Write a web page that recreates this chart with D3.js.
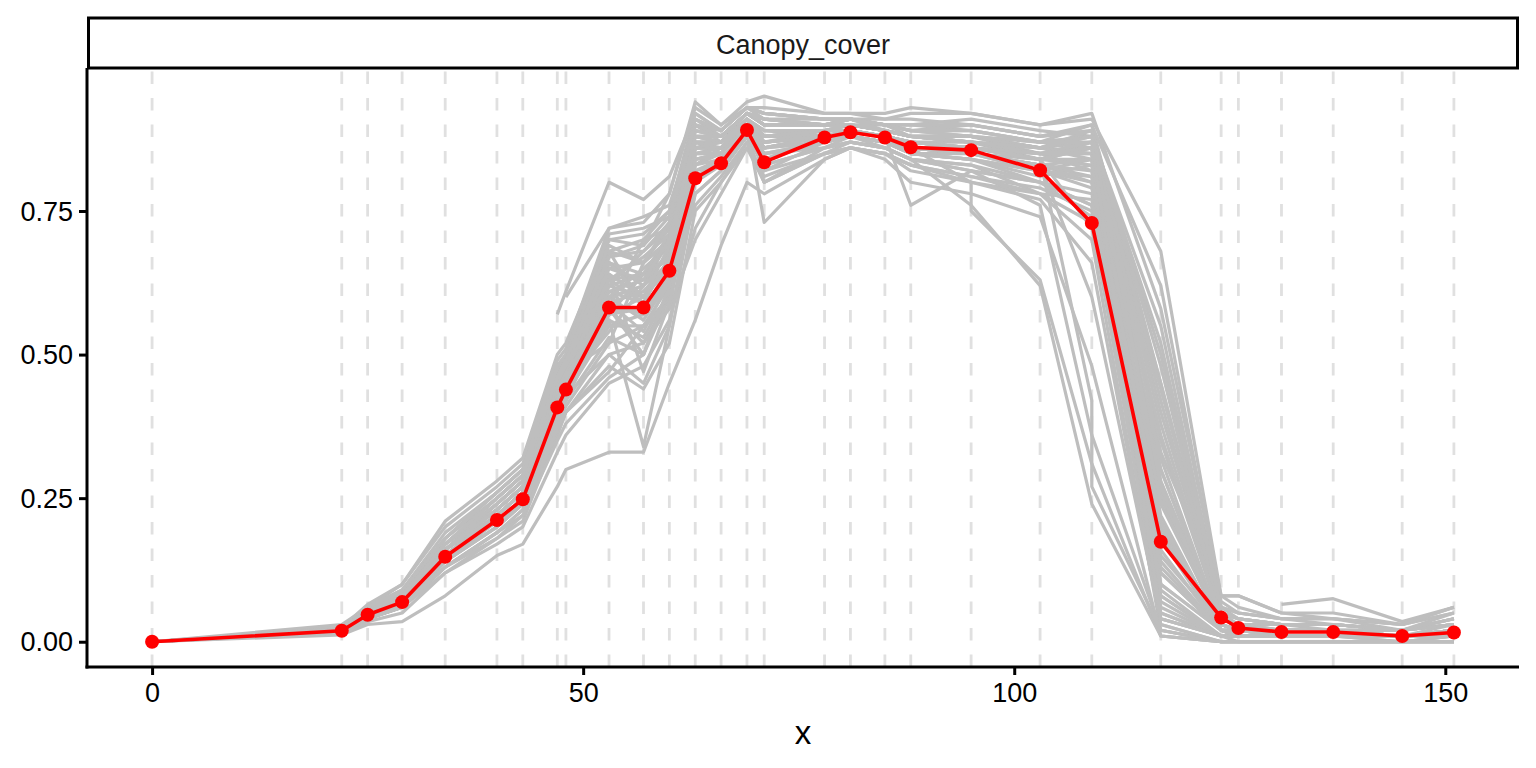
<!DOCTYPE html>
<html>
<head>
<meta charset="utf-8">
<script src="https://cdn.jsdelivr.net/npm/d3@7"></script>
<style>
  body { margin: 0; background: #fff; }
  text { font-family: "Liberation Sans", Arial, sans-serif; }
</style>
</head>
<body>
<div id="root"></div>
<script>
// acquisition dates (x) shared by every plot series
const dates = [0, 22, 25, 29, 34, 40, 43, 47, 48, 53, 57, 60, 63, 66, 69, 71, 78, 81, 85, 88, 95, 103, 109, 117, 124, 126, 131, 137, 145, 151]

// mean canopy cover (red)
const meanCover = [0, 0.019, 0.047, 0.069, 0.148, 0.212, 0.248, 0.408, 0.439, 0.582, 0.582, 0.646, 0.807, 0.833, 0.891, 0.835,
    0.878, 0.887, 0.878, 0.861, 0.856, 0.821, 0.729, 0.174, 0.042, 0.024, 0.017, 0.017, 0.010, 0.016]

// single plots (grey). null = no image, [a, b] = two readings on the same date
const plotCover = [
    [0, .02, .05, .08, .17, .24, .28, .45, .48, .65, .66, .72, .88, .88, .92, .90, .90, .90, .89, .88, .88, .86, .84, .30, .03, .02, .02, .02, .01, .02],
    [0, .02, .04, .06, .14, .20, .24, .40, .43, .55, .57, .64, .85, .86, .90, .88, .89, .90, .90, .89, .88, .85, .82, .12, .02, .01, .01, .01, .01, .01],
    [0, .03, .06, .09, .19, .26, .30, .47, .50, .70, .71, .75, .92, .89, .93, .92, .91, .91, .90, .90, .91, .89, .88, .45, .05, .03, .03, .03, .02, .03],
    [0, .015, .035, .05, .12, .18, .21, .36, .40, .50, .52, .60, .78, .82, .88, .80, .86, .88, .87, .85, .84, .80, .76, .05, .01, .01, .01, .01, 0, .01],
    [0, .02, .05, .07, .15, .22, .26, .42, .45, .60, .62, .68, .90, .87, .91, .86, .88, .89, .88, .87, .86, .84, .86, .20, .02, .02, .01, .01, .01, .02],
    [0, .025, .06, .10, .21, .28, .32, .50, .52, .70, .69, .78, .93, .90, .94, .95, .92, .92, .91, .92, .92, .90, .92, .58, .08, .06, .04, .04, .03, .05],
    [0, .018, .04, .07, .13, .19, .23, .38, .41, .52, .55, .62, .80, .84, .89, .82, .87, .88, .86, .84, .83, .78, .70, .02, 0, 0, 0, 0, 0, 0],
    [0, .012, .03, .035, .08, .15, .17, .27, .30, .33, .33, .45, .56, .69, .80, .78, .84, .86, .84, .80, .78, .74, .48, .01, 0, 0, 0, 0, 0, 0],
    [0, .02, .05, .08, .16, .23, .27, .44, .47, .62, .60, .66, .87, .85, .90, .87, .89, .89, .88, .86, .85, .83, .80, .15, .03, .02, .02, .02, .01, .02],
    [0, .022, .05, .075, .17, .25, .29, .46, .49, .68, .66, .70, .89, .88, .92, .91, .90, .91, .89, .88, .87, .85, .87, .35, .04, .03, .02, .02, .02, .03],
    [0, .02, .045, .065, .14, .21, .25, .39, .42, .58, .50, .60, .83, .86, .90, .84, .88, .89, .88, .86, .85, .82, .84, .10, .02, .01, .01, .01, .01, .02],
    [0, .016, .04, .06, .12, .17, .20, .33, .36, .45, .48, .56, .72, .80, .86, .80, .85, .87, .86, .84, .82, .80, .78, .08, .01, .01, .01, .01, .01, .01],
    [0, .025, .065, .10, .20, .27, .31, .49, .51, .72, .73, .78, .94, .90, .93, .93, .92, .92, .92, .93, .92, .90, .91, .68, .08, .08, .05, .04, .03, .06],
    [0, .02, .05, .07, .15, .21, .24, .40, .44, .56, .34, .55, .80, .83, .89, .85, .87, .88, .87, .86, .85, .83, .81, .25, .03, .02, .02, .02, .01, .02],
    [0, .02, .05, .08, .16, .22, .26, .43, .46, .63, .64, .70, .88, .87, .91, .88, .89, .90, .89, .88, .87, .86, .85, .22, .02, .02, .02, .02, .01, .02],
    [0, .018, .04, .065, .15, .22, .26, .41, .44, .57, .58, .64, .84, .85, .90, .73, .84, .86, .85, .83, .80, .78, .73, .05, .01, .01, .01, .01, .01, .01],
    [0, .02, .05, .075, .16, .24, .28, .44, .47, .66, .62, .68, .86, .86, .91, .89, .88, .89, .88, .76, .82, .80, .76, .18, .02, .02, .02, .02, .01, .02],
    [0, .022, .055, .08, .17, .23, .27, .45, .48, .64, .60, .66, .87, .87, .92, .90, .90, .90, .89, .88, .88, .86, .88, .40, .05, .04, .03, .03, .02, .04],
    [0, .02, .05, .075, .15, .22, .26, .42, .46, .60, .56, .63, .84, .85, .90, .86, .88, .89, .88, .87, .86, .84, .87, .28, .03, .02, .02, .02, .01, .03],
    [0, .018, .045, .07, .14, .20, .24, .39, .42, .53, .50, .62, .82, .84, .89, .84, .87, .88, .87, .85, .84, .81, .83, .08, .01, .01, .01, .01, .01, .01],
    [0, .024, .06, .09, .18, .26, .30, .48, .50, .71, .72, .74, .91, .89, .93, .92, .91, .91, .91, .91, .90, .88, .89, .50, .06, .04, .03, .03, .02, .04],
    [null, null, null, null, null, null, null, .57, .61, .80, .77, .81, .92, .89, .93, .92, .91, .91, .90, .90, .89, .87, .86, .30, .03, .02, .02, .02, .01, .02],
    [null, null, null, null, null, null, null, null, .60, .72, .74, .76, .90, .88, .92, .91, .90, .91, .90, .89, .90, .88, .90, .45, .05, .04, .03, .03, .02, .03],
    [0, .02, .05, .075, .16, .23, .27, .43, .46, .60, .62, .70, .86, .86, .91, .88, .88, .88, .87, .86, [.80, .75], .63, .31, .01, 0, 0, 0, 0, 0, 0],
    [0, .018, .045, .07, .15, .21, .25, .40, .44, .55, .55, .60, .81, .84, .89, .85, .86, .87, .86, .84, .76, .62, .24, .01, 0, 0, 0, 0, 0, 0],
    [0, .02, .05, .07, .15, .22, .26, .42, .45, .58, .52, .58, .82, .83, .88, .83, .86, .87, .86, .84, .82, .76, .36, .02, 0, 0, 0, 0, 0, .01],
    [0, .021, .05, .08, .16, .23, .27, .44, .46, .62, .64, .69, .86, .87, .91, .89, .89, .90, .89, .88, .87, .84, [.42, .27], .02, 0, 0, 0, 0, 0, 0],
    [0, .02, .045, .07, .15, .22, .26, .41, .44, .59, .57, .63, .85, .85, .90, .87, .88, .88, .87, .86, .85, .83, .60, .04, .01, .01, .01, .01, .01, .01],
    [0, .022, .055, .085, .18, .25, .29, .46, .49, .67, .68, .72, .90, .88, .92, .90, .90, .91, .90, .89, .89, .87, .90, .62, .07, .05, .04, .04, .03, .05],
    [0, .02, .05, .08, .16, .24, .28, .45, .48, .66, .64, .71, .89, .88, .92, .91, .90, .90, .89, .88, .88, .87, .88, .55, .06, .05, .04, .04, .02, .04],
    [0, .016, .04, .06, .13, .19, .22, .36, .40, .48, .44, .52, .75, .80, .87, .81, .85, .86, .85, .82, .80, .77, .66, .03, 0, 0, 0, 0, 0, 0],
    [0, .02, .05, .07, .15, .22, .26, .42, .45, .59, .61, .66, .86, .86, .91, .87, .88, .89, .88, .87, .86, .85, .85, .16, .02, .02, .01, .01, .01, .02],
    [null, null, null, null, null, null, null, null, null, null, null, null, null, null, null, null, null, null, null, null, null, null, null, null, null, null, .065, .075, .035, .06],
    [0, .02, .05, .07, .16, .23, .27, .43, .46, .61, .59, .67, .87, .87, .91, .88, .89, .89, .88, .87, .87, .85, .86, .33, .08, .08, .05, .05, .03, .06],
    [0, .019, .045, .07, .15, .21, .25, .41, .44, .56, .53, .61, .83, .85, .90, .85, .87, .88, .87, .85, .85, .82, .79, .12, .02, .01, .01, .01, .01, .02],
    [0, .021, .055, .08, .17, .25, .29, .47, .49, .68, .70, .75, .91, .89, .93, .92, .91, .91, .90, .90, .90, .88, .89, .42, .04, .03, .03, .02, .02, .03],
    [0, .02, .05, .075, .16, .23, .27, .44, .47, .52, .66, .70, .88, .87, .91, .88, .89, .89, .88, .87, .86, .84, .83, .26, .02, .02, .01, .01, .01, .02],
    [0, .019, .045, .07, .15, .21, .25, .42, .45, .68, .58, .65, .86, .86, .90, .87, .88, .89, .88, .86, .85, .83, .82, .14, .02, .01, .01, .01, .01, .01],
    [0, .023, .055, .085, .18, .26, .30, .47, .50, .62, .68, .73, .91, .88, .92, .91, .90, .91, .90, .89, .88, .86, .87, .38, .04, .03, .02, .02, .02, .03],
    [0, .017, .04, .06, .13, .19, .23, .37, .40, .47, .55, .58, .70, .78, .86, .82, .85, .86, .85, .83, .81, .79, .75, .06, .01, .01, .01, .01, .01, .01],
    [0, .02, .05, .075, .16, .22, .26, .43, .46, .64, .47, .59, .83, .84, .89, .86, .87, .88, .87, .86, .85, .84, .84, .19, .02, .02, .01, .01, .01, .02],
    [0, .021, .05, .08, .17, .24, .28, .45, .48, .58, .70, .72, .88, .88, .92, .90, .90, .90, .89, .88, .87, .86, .89, .48, .05, .04, .03, .03, .02, .04],
    [0, .018, .045, .065, .14, .20, .24, .40, .43, .50, .45, .55, .78, .82, .88, .83, .86, .87, .86, .84, .83, .80, .74, .04, .01, .01, .01, .01, 0, .01],
    [0, .02, .05, .07, .15, .22, .26, .42, .45, .61, .63, .67, .87, .87, .91, .87, .88, .89, .88, .86, .86, .84, .86, .24, .03, .02, .02, .02, .01, .02],
    [0, .022, .055, .08, .17, .25, .29, .46, .49, .66, .60, .69, .89, .88, .92, .90, .90, .90, .89, .88, .88, .86, .85, .10, .02, .01, .01, .01, .01, .01],
    [0, .02, .05, .075, .16, .23, .27, .43, .47, .57, .64, .67, .85, .86, .90, .86, .88, .88, .87, .85, .84, .82, .80, .32, .03, .02, .02, .02, .01, .02],
    [0, .019, .05, .07, .15, .22, .26, .42, .45, .54, .62, .66, .86, .86, .90, .87, .88, .89, .88, .87, .86, .85, .87, .44, .05, .04, .03, .03, .02, .03],
    [0, .021, .05, .08, .16, .24, .28, .44, .48, .63, .67, .71, .88, .87, .91, .89, .89, .90, .89, .88, .87, .85, .86, .03, 0, 0, 0, 0, 0, 0],
    [0, .02, .045, .07, .15, .21, .25, .41, .44, .57, .60, .65, .85, .85, .90, .86, .88, .88, .87, .86, .85, .83, .84, .07, .01, .01, .01, .01, .01, .01],
    [0, .023, .055, .085, .18, .26, .30, .48, .50, .69, .66, .73, .90, .89, .93, .91, .91, .91, .90, .89, .89, .87, .88, .52, .06, .05, .04, .03, .02, .05],
    [0, .018, .04, .06, .13, .18, .22, .35, .38, .46, .50, .62, .76, .81, .87, .80, .85, .86, .85, .83, .81, .78, .77, .09, .01, .01, .01, .01, .01, .01],
    [0, .02, .05, .075, .16, .23, .27, .44, .47, .63, .59, .67, .87, .86, .91, .88, .89, .89, .88, .87, .86, .85, .85, .36, .04, .03, .02, .02, .02, .03],
    [0, .02, .05, .07, .15, .22, .26, .42, .46, .60, .65, .69, .86, .87, .90, .87, .88, .89, .88, .86, .86, .84, .72, .13, .02, .01, .01, .01, .01, .01],
    [0, .022, .05, .08, .17, .24, .28, .45, .48, .65, .63, .70, .88, .88, .92, .90, .90, .90, .89, .88, .87, .86, .88, .27, .03, .02, .02, .02, .01, .02],
    [0, .019, .045, .07, .15, .22, .26, .41, .44, .59, .54, .63, .84, .85, .90, .86, .87, .88, .87, .85, .84, .82, .81, .21, .02, .02, .01, .01, .01, .02],
    [0, .021, .055, .08, .17, .25, .29, .46, .49, .67, .69, .74, .90, .88, .92, .91, .90, .91, .90, .88, .88, .87, .87, .04, .01, 0, 0, 0, 0, 0]
]

const xTicks = [0, 50, 100, 150]
const yTicks = [0, 0.25, 0.5, 0.75]
const stripLabel = "Canopy_cover"
const xTitle = "x"

function drawChart() {
    const w = 1536, h = 768
    const left = 87, right = 1519, top = 68, bottom = 667
    const stripTop = 18

    //scales (ggplot style 5% expansion)
    const x = d3.scaleLinear()
        .domain([-7.55, 158.55])
        .range([left, right])

    const y = d3.scaleLinear()
        .domain([-0.044, 0.999])
        .range([bottom, top])

    const svg = d3.select("#root").append("svg")
        .attr("width", w)
        .attr("height", h)

    svg.append("rect")
        .attr("width", w)
        .attr("height", h)
        .attr("fill", "white")

    // dashed date lines
    svg.selectAll("line.vline")
        .data(dates)
        .enter()
        .append("line")
        .attr("class", "vline")
        .attr("x1", d => x(d))
        .attr("x2", d => x(d))
        .attr("y1", bottom)
        .attr("y2", top)
        .attr("stroke", "#e0e0e0")
        .attr("stroke-width", 2.8)
        .attr("stroke-dasharray", "12.5,14")

    // flatten a series to points, skipping missing dates
    const toPoints = series => {
        const pts = []
        series.forEach((v, i) => {
            if (v === null) return
            if (Array.isArray(v)) v.forEach(u => pts.push([dates[i], u]))
            else pts.push([dates[i], v])
        })
        return pts
    }

    const line = d3.line()
        .x(d => x(d[0]))
        .y(d => y(d[1]))

    svg.selectAll("path.plot")
        .data(plotCover.map(toPoints))
        .enter()
        .append("path")
        .attr("class", "plot")
        .attr("d", line)
        .attr("fill", "none")
        .attr("stroke", "#bebebe")
        .attr("stroke-width", 3.2)
        .attr("stroke-linejoin", "round")

    const meanPts = toPoints(meanCover)

    svg.append("path")
        .datum(meanPts)
        .attr("d", line)
        .attr("fill", "none")
        .attr("stroke", "red")
        .attr("stroke-width", 3.6)
        .attr("stroke-linejoin", "round")

    svg.selectAll("circle.mean")
        .data(meanPts)
        .enter()
        .append("circle")
        .attr("class", "mean")
        .attr("cx", d => x(d[0]))
        .attr("cy", d => y(d[1]))
        .attr("r", 7)
        .attr("fill", "red")

    // axes
    const xAxis = svg.append("g")
        .attr("transform", "translate(0," + bottom + ")")
        .call(d3.axisBottom(x).tickValues(xTicks).tickFormat(d3.format("d")).tickSize(8).tickPadding(8))
    const yAxis = svg.append("g")
        .attr("transform", "translate(" + left + ",0)")
        .call(d3.axisLeft(y).tickValues(yTicks).tickFormat(d3.format(".2f")).tickSize(8).tickPadding(6))

    ;[xAxis, yAxis].forEach(g => {
        g.select(".domain").remove()
        g.selectAll("line").attr("stroke", "black").attr("stroke-width", 3)
        g.selectAll("text")
            .attr("fill", "black")
            .attr("font-size", 27)
            .attr("font-family", "Liberation Sans, Arial, sans-serif")
    })
    yAxis.selectAll("text").attr("dy", "0.34em")

    svg.append("line")
        .attr("x1", left).attr("x2", left)
        .attr("y1", top).attr("y2", bottom + 1.5)
        .attr("stroke", "black").attr("stroke-width", 3)
    svg.append("line")
        .attr("x1", left - 1.5).attr("x2", right)
        .attr("y1", bottom).attr("y2", bottom)
        .attr("stroke", "black").attr("stroke-width", 3)

    // facet strip
    svg.append("rect")
        .attr("x", left + 1.5)
        .attr("y", stripTop)
        .attr("width", right - left - 3)
        .attr("height", top - stripTop)
        .attr("fill", "white")
        .attr("stroke", "black")
        .attr("stroke-width", 3)

    svg.append("text")
        .attr("x", (left + right) / 2)
        .attr("y", 54)
        .attr("text-anchor", "middle")
        .attr("font-size", 27)
        .attr("fill", "#1a1a1a")
        .text(stripLabel)

    svg.append("text")
        .attr("x", (left + right) / 2)
        .attr("y", 744)
        .attr("text-anchor", "middle")
        .attr("font-size", 33)
        .attr("fill", "black")
        .text(xTitle)
}

drawChart()
</script>
</body>
</html>
